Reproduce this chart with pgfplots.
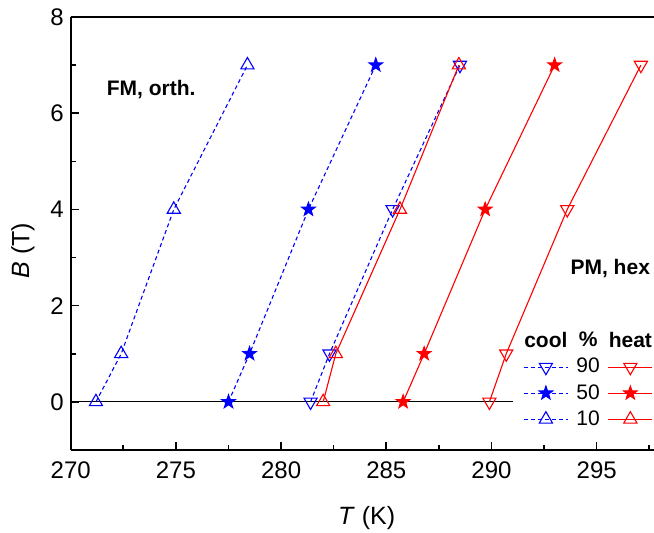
\documentclass[border=0pt]{standalone}
\usepackage{pgfplots}
\pgfplotsset{compat=1.18}
\usepackage{fontspec}
\setmainfont{Liberation Sans}

\pgfdeclareplotmark{fstar}{%
  \pgfpathmoveto{\pgfpointpolar{90}{\pgfplotmarksize}}%
  \pgfpathlineto{\pgfpointpolar{126}{0.40\pgfplotmarksize}}%
  \pgfpathlineto{\pgfpointpolar{162}{\pgfplotmarksize}}%
  \pgfpathlineto{\pgfpointpolar{198}{0.40\pgfplotmarksize}}%
  \pgfpathlineto{\pgfpointpolar{234}{\pgfplotmarksize}}%
  \pgfpathlineto{\pgfpointpolar{270}{0.40\pgfplotmarksize}}%
  \pgfpathlineto{\pgfpointpolar{306}{\pgfplotmarksize}}%
  \pgfpathlineto{\pgfpointpolar{342}{0.40\pgfplotmarksize}}%
  \pgfpathlineto{\pgfpointpolar{18}{\pgfplotmarksize}}%
  \pgfpathlineto{\pgfpointpolar{54}{0.40\pgfplotmarksize}}%
  \pgfpathclose
  \pgfusepathqfillstroke}

\definecolor{cblue}{RGB}{0,0,255}
\definecolor{cred}{RGB}{255,0,0}

\pgfplotsset{
  cool/.style={color=cblue, line width=0.55pt, dash pattern=on 2pt off 1.5pt, every mark/.append style={solid, line width=0.55pt}},
  heat/.style={color=cred, line width=0.55pt, solid, every mark/.append style={solid, line width=0.55pt}},
  tdown/.style={mark=triangle, mark size=3.8pt, every mark/.append style={rotate=180}},
  tup/.style={mark=triangle, mark size=3.8pt},
  tstar/.style={mark=fstar, mark size=3.5pt},
}

\begin{document}
\begin{tikzpicture}
\begin{axis}[
  scale only axis, width=291.4pt, height=216.5pt,
  xmin=270, xmax=297.7, ymin=-1, ymax=8,
  axis x line*=box, axis y line*=left,
  xtick={270,275,...,295}, ytick={0,2,4,6,8},
  minor xtick={272.5,277.5,282.5,287.5,292.5,297.5},
  minor ytick={-1,1,3,5,7},
  xtick pos=bottom, ytick pos=left,
  tick align=inside,
  major tick length=4pt, minor tick length=2.5pt,
  every tick/.style={black, line width=0.8pt},
  axis line style={line width=1pt, black},
  tick label style={font=\fontsize{12}{14}\selectfont},
  xticklabel style={yshift=-2.5pt},
  /pgf/number format/assume math mode=true,
  xlabel={\textit{T} (K)}, ylabel={\textit{B} (T)},
  label style={font=\fontsize{12.5}{15}\selectfont},
  xlabel style={xshift=2.3pt, yshift=-7pt},
  ylabel style={yshift=1pt, xshift=-8.5pt},
  legend columns=2,
  legend cell align=center,
  legend image code/.code={%
    \draw[mark repeat=2,mark phase=2,#1] plot coordinates {(0pt,0pt) (11pt,0pt) (22pt,0pt)};},
  legend style={at={(0.776,0.282)}, anchor=north west, draw=none, fill=none,
    inner sep=0pt, row sep=0.2pt, column sep=2pt,
    nodes={inner xsep=2pt},
    font=\fontsize{10.5}{12}\selectfont},
]
\addplot[black, line width=0.6pt, forget plot] coordinates {(270,0) (291,0)};

\addplot[cool, tup, forget plot] coordinates {(271.2,0) (272.4,1) (274.9,4) (278.4,7)};
\addplot[cool, tstar, every mark/.append style={fill=cblue}, forget plot] coordinates {(277.5,0) (278.5,1) (281.3,4) (284.5,7)};
\addplot[cool, tdown, forget plot] coordinates {(281.4,0) (282.3,1) (285.3,4) (288.5,7)};
\addplot[heat, tup, forget plot] coordinates {(282.0,0) (282.6,1) (285.65,4) (288.45,7)};
\addplot[heat, tstar, every mark/.append style={fill=cred}, forget plot] coordinates {(285.8,0) (286.8,1) (289.7,4) (293.0,7)};
\addplot[heat, tdown, forget plot] coordinates {(289.9,0) (290.7,1) (293.6,4) (297.1,7)};

\addlegendimage{legend image code/.code={\node[font=\bfseries\fontsize{10.5}{12}\selectfont, inner sep=0pt] at (11pt,0pt) {cool};}}
\addlegendentry{\textbf{\%}}
\addlegendimage{legend image code/.code={\node[font=\bfseries\fontsize{10.5}{12}\selectfont, inner sep=0pt] at (11pt,0pt) {heat};}}
\addlegendentry{}
\addlegendimage{cool, tdown}
\addlegendentry{90}
\addlegendimage{heat, tdown}
\addlegendentry{}
\addlegendimage{cool, tstar, every mark/.append style={fill=cblue}}
\addlegendentry{50}
\addlegendimage{heat, tstar, every mark/.append style={fill=cred}}
\addlegendentry{}
\addlegendimage{cool, tup}
\addlegendentry{10}
\addlegendimage{heat, tup}
\addlegendentry{}

\node[font=\bfseries\fontsize{10.5}{12}\selectfont, anchor=west, inner sep=0pt] at (axis cs:271.7,6.49) {FM, orth.};
\node[font=\bfseries\fontsize{10.5}{12}\selectfont, anchor=east, inner sep=0pt] at (axis cs:297.55,2.78) {PM, hex};
\end{axis}
\pgfresetboundingbox
\path ([xshift=-35.35pt, yshift=-41.5pt]current axis.south west) rectangle ([xshift=0.25pt, yshift=8.5pt]current axis.north east);
\end{tikzpicture}
\end{document}
